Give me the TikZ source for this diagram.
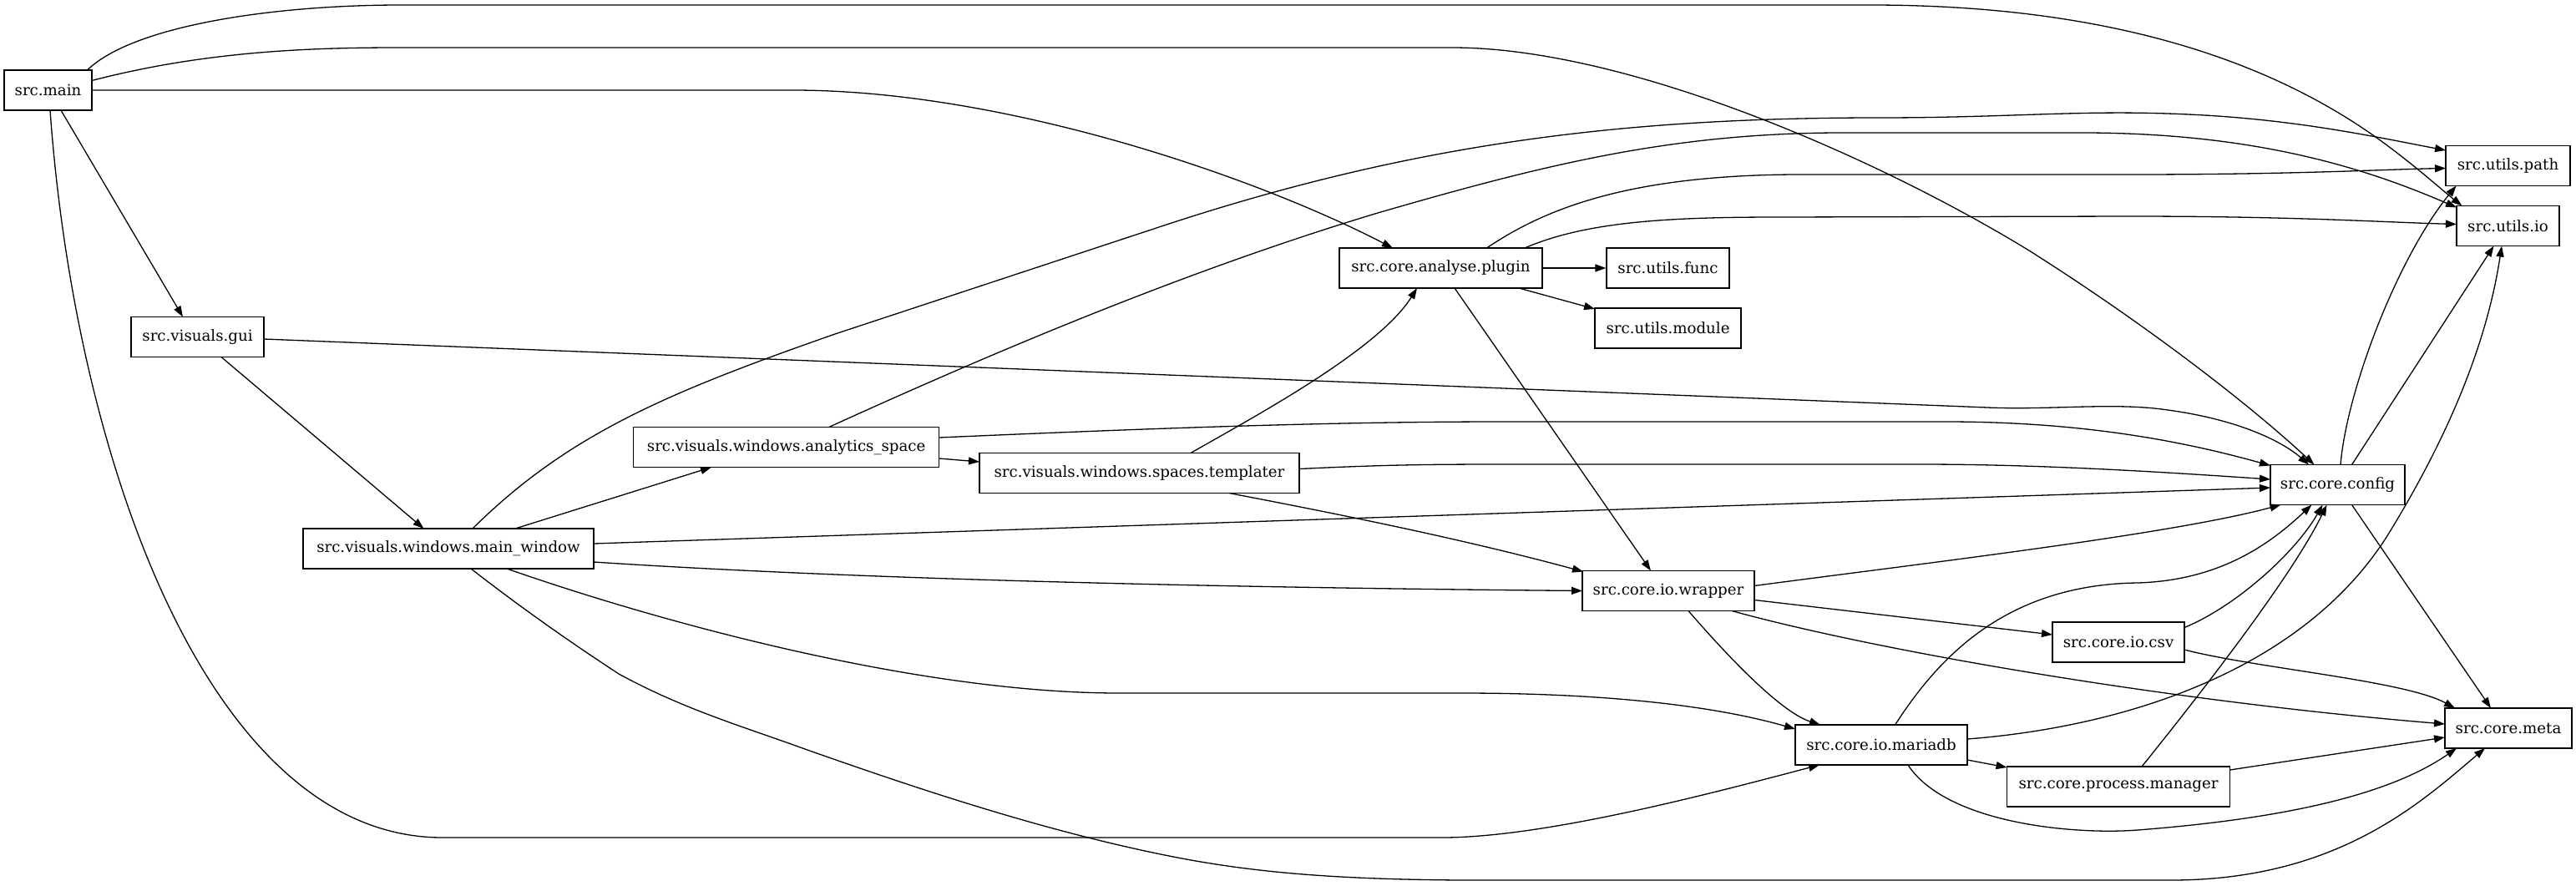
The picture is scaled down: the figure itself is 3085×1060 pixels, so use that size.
\documentclass[tikz,border=0pt]{standalone}
\usepackage{fontspec}
\newfontfamily\dvs{DejaVu Serif}
\usetikzlibrary{arrows.meta,calc}
\tikzset{
  mod/.style={draw, line width=1.3pt, rectangle, minimum height=48pt, inner sep=0pt,
    font=\dvs\fontsize{18.2pt}{22pt}\selectfont},
  edge/.style={line width=1.3pt, -{Triangle[length=13pt,width=9pt]}}
}
\begin{document}
\begin{tikzpicture}[x=1pt,y=-1pt]
\fill[white] (0,0) rectangle (3085,1060);
\useasboundingbox (0,0) rectangle (3085,1060);
% nodes
\node[mod, minimum width=105pt] (main) at (57.5,108) {src.main};
\node[mod, minimum width=159pt] (gui) at (236.5,403.5) {src.visuals.gui};
\node[mod, minimum width=348pt] (mw) at (537,657) {src.visuals.windows.main\_window};
\node[mod, minimum width=366pt] (as) at (941.7,535.5) {src.visuals.windows.analytics\_space};
\node[mod, minimum width=383pt] (tpl) at (1364.5,566.5) {src.visuals.windows.spaces.templater};
\node[mod, minimum width=243pt] (plugin) at (1725.5,321) {src.core.analyse.plugin};
\node[mod, minimum width=147pt] (ufunc) at (1997.5,321) {src.utils.func};
\node[mod, minimum width=175pt] (umodule) at (1997.5,393) {src.utils.module};
\node[mod, minimum width=206pt] (wrapper) at (1998,707.5) {src.core.io.wrapper};
\node[mod, minimum width=158pt] (csv) at (2537,769) {src.core.io.csv};
\node[mod, minimum width=206pt] (mariadb) at (2253,892) {src.core.io.mariadb};
\node[mod, minimum width=267pt] (pm) at (2537,942) {src.core.process.manager};
\node[mod, minimum width=161pt] (config) at (2799.5,580.5) {src.core.config};
\node[mod, minimum width=149pt] (upath) at (3003.5,198.5) {src.utils.path};
\node[mod, minimum width=123pt] (uio) at (3003.5,270.5) {src.utils.io};
\node[mod, minimum width=152pt] (meta) at (3004,872) {src.core.meta};
% edges from src.main
\draw[edge] ($(main)+(47,-24)$) .. controls (160,30) and (330,6) .. (480,6) -- (2240,6) .. controls (2520,6) and (2720,70) .. (2860,175) .. controls (2900,205) and (2925,228) .. ($(uio)+(-55,-24)$);
\draw[edge] ($(main)+(52.5,-11.5)$) .. controls (250,60) and (380,57) .. (480,57) -- (1739,57) .. controls (1950,57) and (2250,190) .. (2430,300) .. controls (2580,395) and (2700,490) .. ($(config)+(-28,-24)$);
\draw[edge] ($(main)+(52.5,0)$) -- (950,108) .. controls (1200,108) and (1500,210) .. ($(plugin)+(-57.5,-24)$);
\draw[edge] ($(main)+(15.5,24)$) -- ($(gui)+(-17.5,-24)$);
\draw[edge] ($(main)+(2.5,24)$) .. controls (90,550) and (250,1003) .. (530,1003) -- (1727,1003) .. controls (1850,1003) and (2050,950) .. ($(mariadb)+(-74,24)$);
% gui
\draw[edge] ($(gui)+(28.5,24)$) -- ($(mw)+(-29.5,-24)$);
\draw[edge] ($(gui)+(79.5,2.5)$) -- (2380,488) .. controls (2450,491) and (2520,483) .. (2580,489) .. controls (2680,500) and (2735,530) .. ($(config)+(-34.5,-24)$);
% main_window
\draw[edge] ($(mw)+(80,-24)$) -- ($(as)+(-89.7,24)$);
\draw[edge] ($(mw)+(29,-24)$) .. controls (680,520) and (800,470) .. (1000,400) -- (1400,268) .. controls (1700,170) and (1950,141) .. (2250,141) .. controls (2420,141) and (2500,130) .. (2640,138) .. controls (2760,145) and (2850,165) .. ($(upath)+(-74.5,-18.5)$);
\draw[edge] ($(mw)+(174,-6)$) -- ($(config)+(-80.5,3.5)$);
\draw[edge] ($(mw)+(174,16)$) .. controls (1000,692) and (1400,703) .. ($(wrapper)+(-103,0)$);
\draw[edge] ($(mw)+(70,24)$) .. controls (790,745) and (1100,830) .. (1340,830) -- (1750,830) .. controls (1950,830) and (2070,850) .. ($(mariadb)+(-103,-19)$);
\draw[edge] ($(mw)+(27,24)$) .. controls (640,740) and (700,780) .. (741,807) .. controls (820,850) and (890,870) .. (964,897) .. controls (1100,945) and (1250,995) .. (1400,1025) .. controls (1500,1045) and (1600,1053) .. (1750,1054) -- (2600,1054) .. controls (2800,1054) and (2900,960) .. ($(meta)+(-28,24)$);
% analytics_space
\draw[edge] ($(as)+(51,-24)$) .. controls (1150,440) and (1400,330) .. (1650,255) .. controls (1850,197) and (2000,160) .. (2200,159) -- (2500,159) .. controls (2700,160) and (2830,200) .. ($(uio)+(-61.5,-22)$);
\draw[edge] ($(as)+(183,13.5)$) -- ($(tpl)+(-191.5,-13.5)$);
\draw[edge] ($(as)+(183,-11.5)$) .. controls (1400,512) and (1600,505) .. (1800,505) -- (2330,505) .. controls (2500,505) and (2620,530) .. ($(config)+(-80.5,-23)$);
% templater
\draw[edge] ($(tpl)+(61.5,-24)$) .. controls (1500,500) and (1650,420) .. ($(plugin)+(-28.5,24)$);
\draw[edge] ($(tpl)+(191.5,-5)$) .. controls (1650,557) and (1700,556) .. (1800,556) -- (2300,556) .. controls (2450,556) and (2600,566) .. ($(config)+(-80.5,-6.5)$);
\draw[edge] ($(tpl)+(107.5,24)$) .. controls (1600,615) and (1750,645) .. ($(wrapper)+(-102,-23)$);
% plugin
\draw[edge] ($(plugin)+(55,-24)$) .. controls (1850,250) and (1950,210) .. (2150,209) -- (2550,209) .. controls (2750,209) and (2850,203) .. ($(upath)+(-74.5,3)$);
\draw[edge] ($(plugin)+(100.5,-24)$) .. controls (1900,265) and (2000,260) .. (2130,260) -- (2550,259) .. controls (2750,259) and (2850,266) .. ($(uio)+(-61.5,-2)$);
\draw[edge] (plugin.east) -- (ufunc.west);
\draw[edge] ($(plugin)+(93.5,24)$) -- ($(umodule)+(-87.5,-23)$);
\draw[edge] ($(plugin)+(16.5,24)$) -- ($(wrapper)+(-21,-24)$);
% wrapper
\draw[edge] ($(wrapper)+(103,-6)$) .. controls (2300,675) and (2600,640) .. ($(config)+(-68,24)$);
\draw[edge] ($(wrapper)+(103,11)$) -- ($(csv)+(-79,-9)$);
\draw[edge] ($(wrapper)+(24,24)$) .. controls (2090,810) and (2140,855) .. ($(mariadb)+(-73,-24)$);
\draw[edge] ($(wrapper)+(76,24)$) .. controls (2250,780) and (2600,840) .. ($(meta)+(-76,-5)$);
% csv
\draw[edge] ($(csv)+(79,-17.5)$) .. controls (2680,725) and (2750,660) .. ($(config)+(-18,24)$);
\draw[edge] ($(csv)+(79,9)$) .. controls (2700,800) and (2880,815) .. ($(meta)+(-64,-24)$);
% mariadb
\draw[edge] ($(mariadb)+(16.5,-24)$) .. controls (2320,790) and (2400,700) .. (2560,698) .. controls (2660,695) and (2720,650) .. ($(config)+(-31,24)$);
\draw[edge] ($(mariadb)+(103,-7)$) .. controls (2550,870) and (2760,800) .. (2860,640) .. controls (2940,510) and (2980,400) .. ($(uio)+(-7.5,24)$);
\draw[edge] ($(mariadb)+(103,18)$) -- ($(pm)+(-133.5,-23)$);
\draw[edge] ($(mariadb)+(32,24)$) .. controls (2330,985) and (2480,1000) .. (2560,994) .. controls (2700,983) and (2850,960) .. ($(meta)+(-62,24)$);
% process manager
\draw[edge] ($(pm)+(28,-24)$) .. controls (2660,800) and (2750,680) .. ($(config)+(-13,24)$);
\draw[edge] ($(pm)+(133.5,-20)$) -- ($(meta)+(-76,11)$);
% config
\draw[edge] ($(config)+(3.5,-24)$) .. controls (2810,470) and (2870,310) .. ($(upath)+(-62,24)$);
\draw[edge] ($(config)+(17,-24)$) -- ($(uio)+(-17,24)$);
\draw[edge] ($(config)+(17,24)$) -- ($(meta)+(-21,-24)$);
\end{tikzpicture}
\end{document}
